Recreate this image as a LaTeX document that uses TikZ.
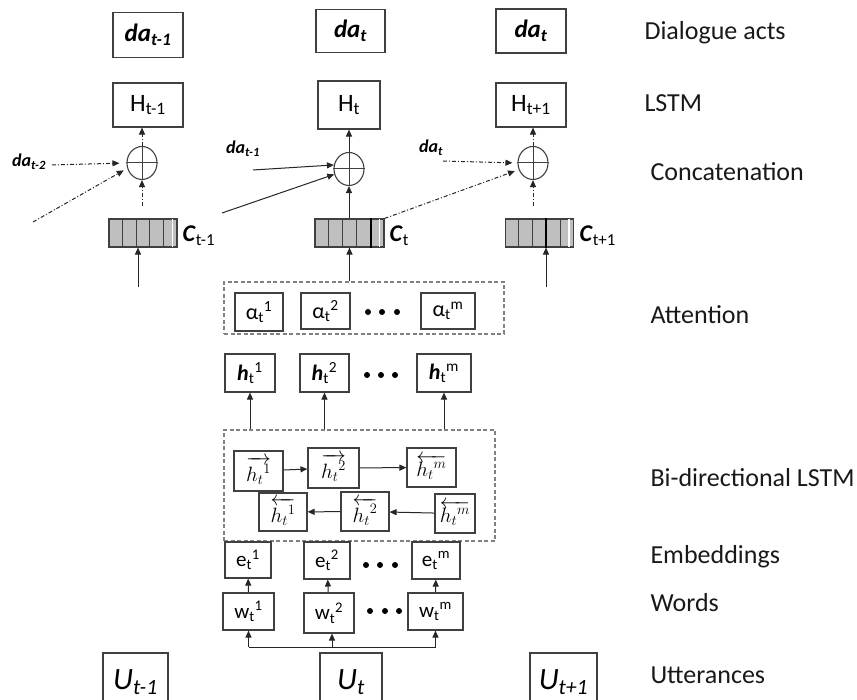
\documentclass[tikz,border=0pt]{standalone}
\usepackage{fontspec}
\setmainfont{Carlito}
\usetikzlibrary{arrows.meta,shapes.geometric,calc}

\begin{document}
\begin{tikzpicture}[x=1pt,y=-1pt,
    box/.style={draw=black!75,line width=1.1pt,inner sep=0pt},
    cell/.style={box,fill=black!25,minimum width=68,minimum height=28},
    cat/.style={draw=black!75,line width=1.1pt,ellipse,minimum width=30,minimum height=33,inner sep=0pt},
    grp/.style={draw=black!50,dash pattern=on 4pt off 2.5pt,line width=1.4pt,inner sep=0pt},
    arr/.style={-{Triangle[length=7pt,width=6pt]},line width=1pt,black!85},
    dd/.style={dash pattern=on 4pt off 2pt on 1pt off 2pt},
    lbl/.style={anchor=west,font=\fontsize{26}{30}\selectfont,black!90},
    small/.style={font=\fontsize{18}{20}\selectfont\bfseries\itshape},
    bi/.style={box,font=\fontsize{21}{24}\selectfont}]
    \useasboundingbox (0,0) rectangle (857,700);
    %dialogue acts
    \node[box,minimum width=70,minimum height=45,font=\fontsize{25}{28}\selectfont\bfseries\itshape] (daA) at (148,35) {da\textsubscript{t-1}};
    \node[box,minimum width=69,minimum height=43,font=\fontsize{25}{28}\selectfont\bfseries\itshape] (daB) at (350.5,31) {da\textsubscript{t}};
    \node[box,minimum width=70,minimum height=44,font=\fontsize{25}{28}\selectfont\bfseries\itshape] (daC) at (531,31) {da\textsubscript{t}};
    %LSTM
    \node[box,minimum width=70,minimum height=44,font=\fontsize{25}{28}\selectfont] (HA) at (148,105) {H\textsubscript{t-1}};
    \node[box,minimum width=62,minimum height=48,font=\fontsize{25}{28}\selectfont] (HB) at (349,105) {H\textsubscript{t}};
    \node[box,minimum width=70,minimum height=44,font=\fontsize{25}{28}\selectfont] (HC) at (531,105) {H\textsubscript{t+1}};
    %concatenation
    \node[cat] (oA) at (142,163) {};
    \node[cat] (oB) at (349,169) {};
    \node[cat] (oC) at (533,163) {};
    \foreach \o in {oA,oB,oC}
        \draw[black!75,line width=1pt] (\o.north)--(\o.south) (\o.west)--(\o.east);
    %context vectors
    \node[cell] (cA) at (143,233) {};
    \node[cell,minimum width=69] (cB) at (349.5,233) {};
    \node[cell] (cC) at (539.5,233) {};
    \foreach \c in {cA,cB,cC}
        \foreach \i in {1,...,4}
            \draw[black!75,line width=1pt] ($(\c.south west)!\i/5!(\c.south east)$)--($(\c.north west)!\i/5!(\c.north east)$);
    \draw[black,line width=2pt] ($(cB.south west)!4/5!(cB.south east)$)--($(cB.north west)!4/5!(cB.north east)$);
    \draw[black,line width=2pt] ($(cC.south west)!3/5!(cC.south east)$)--($(cC.north west)!3/5!(cC.north east)$);
    \foreach \c in {cA,cB,cC}
        \draw[white,line width=1.2pt] ($(\c.south east)+(-5,-1)$)--($(\c.north east)+(-5,1)$);
    \node[anchor=west,font=\fontsize{24}{28}\selectfont] (lcA) at (179,236) {\textbf{\textit{C}}\textsubscript{t-1}};
    \node[anchor=west,font=\fontsize{24}{28}\selectfont] (lcB) at (386,236) {\textbf{\textit{C}}\textsubscript{t}};
    \node[anchor=west,font=\fontsize{24}{28}\selectfont] (lcC) at (576,236) {\textbf{\textit{C}}\textsubscript{t+1}};
    %labels of the inputs
    \node[small] (xA) at (29,162) {da\textsubscript{t-2}};
    \node[small] (xB) at (243,149) {da\textsubscript{t-1}};
    \node[small] (xC) at (431,148) {da\textsubscript{t}};
    \coordinate (sA) at (52,165);
    \coordinate (pA) at (33,222);
    \coordinate (sB) at (253,170);
    \coordinate (pB) at (222,213);
    \coordinate (sC) at (443,161);
    %attention
    \node[grp,minimum width=280,minimum height=52] (att) at (364,308) {};
    \node[box,minimum width=48,minimum height=38,font=\fontsize{22}{26}\selectfont] (a1) at (259,312) {α\textsubscript{t}\textsuperscript{1}};
    \node[box,minimum width=49,minimum height=36,font=\fontsize{22}{26}\selectfont] (a2) at (325.5,311) {α\textsubscript{t}\textsuperscript{2}};
    \node[box,minimum width=54,minimum height=36,font=\fontsize{22}{26}\selectfont] (am) at (448,311) {α\textsubscript{t}\textsuperscript{m}};
    %hidden states
    \node[box,minimum width=50,minimum height=38,font=\fontsize{22}{26}\selectfont] (h1) at (250,373) {\textbf{\textit{h}}\textsubscript{t}\textsuperscript{1}};
    \node[box,minimum width=49,minimum height=38,font=\fontsize{22}{26}\selectfont] (h2) at (324.5,373) {\textbf{\textit{h}}\textsubscript{t}\textsuperscript{2}};
    \node[box,minimum width=54,minimum height=38,font=\fontsize{22}{26}\selectfont] (hm) at (444,373) {\textbf{\textit{h}}\textsubscript{t}\textsuperscript{m}};
    %bi-directional lstm
    \node[grp,minimum width=271,minimum height=111] (bl) at (359.5,485.5) {};
    \node[bi,minimum width=49,minimum height=40] (f1) at (258.5,471) {$\overrightarrow{h_t{}^1}$};
    \node[bi,minimum width=51,minimum height=40] (f2) at (333.5,468) {$\overrightarrow{h_t{}^2}$};
    \node[bi,minimum width=49,minimum height=39] (fm) at (431.5,467.5) {$\overleftarrow{h_t{}^m}$};
    \node[bi,minimum width=48,minimum height=38] (b1) at (283,512) {$\overleftarrow{h_t{}^1}$};
    \node[bi,minimum width=48,minimum height=39] (b2) at (365,511.5) {$\overleftarrow{h_t{}^2}$};
    \node[bi,minimum width=40,minimum height=39] (bm) at (455,513.5) {$\overleftarrow{h_t{}^m}$};
    %embeddings
    \node[box,minimum width=46,minimum height=36,font=\fontsize{21}{24}\selectfont] (e1) at (248,560) {e\textsubscript{t}\textsuperscript{1}};
    \node[box,minimum width=46,minimum height=37,font=\fontsize{21}{24}\selectfont] (e2) at (327,560.5) {e\textsubscript{t}\textsuperscript{2}};
    \node[box,minimum width=48,minimum height=37,font=\fontsize{21}{24}\selectfont] (em) at (436,560.5) {e\textsubscript{t}\textsuperscript{m}};
    %words
    \node[box,minimum width=51,minimum height=37,font=\fontsize{21}{24}\selectfont] (w1) at (248.5,611.5) {w\textsubscript{t}\textsuperscript{1}};
    \node[box,minimum width=50,minimum height=40,font=\fontsize{21}{24}\selectfont] (w2) at (329,613) {w\textsubscript{t}\textsuperscript{2}};
    \node[box,minimum width=55,minimum height=37,font=\fontsize{21}{24}\selectfont] (wm) at (435.5,611.5) {w\textsubscript{t}\textsuperscript{m}};
    %utterances
    \node[box,minimum width=65,minimum height=58,font=\fontsize{31}{34}\selectfont\itshape] (uA) at (135.5,682) {U\textsubscript{t-1}};
    \node[box,minimum width=62,minimum height=58,font=\fontsize{31}{34}\selectfont\itshape] (uB) at (351,682) {U\textsubscript{t}};
    \node[box,minimum width=67,minimum height=58,font=\fontsize{31}{34}\selectfont\itshape] (uC) at (563.5,682) {U\textsubscript{t+1}};
    %dots
    \foreach \x in {368,382,397} \fill (\x,312) circle(3);
    \foreach \x in {367,381,395} \fill (\x,375) circle(3);
    \foreach \x in {366,380,395} \fill (\x,565) circle(3);
    \foreach \x in {370,385,399} \fill (\x,611) circle(3);
    %arrows up to the lstm
    \draw[arr,dd] (oA.north)--(oA.north |- HA.south);
    \draw[arr] (oB.north)--(oB.north |- HB.south);
    \draw[arr,dd] (oC.north)--(oC.north |- HC.south);
    \draw[arr,dd,shorten <=12pt] (oA.south |- cA.north)--(oA.south);
    \draw[arr] (oB.south |- cB.north)--(oB.south);
    \draw[arr,dd,shorten <=12pt] (oC.south |- cC.north)--(oC.south);
    %inputs of the concatenation
    \draw[arr,dd,shorten >=7pt] (sA)--(oA.west);
    \draw[arr,dd,shorten >=4pt] (pA)--(oA.200);
    \draw[arr] (sB)--(oB.165);
    \draw[arr] (pB)--(oB.200);
    \draw[arr,dd,shorten >=5pt] (sC)--(oC.west);
    \draw[arr,dd,shorten >=4pt] (cB.north east)--(oC.205);
    %arrows into the context vectors
    \coordinate (iA) at (138,287);
    \coordinate (iC) at (546,287);
    \draw[arr] (iA)--(iA |- cA.south);
    \draw[arr] (cB.south |- att.north)--(cB.south);
    \draw[arr] (iC)--(iC |- cC.south);
    %bi-lstm to hidden states
    \draw[arr] (h1.south |- bl.north)--(h1.south);
    \draw[arr] (h2.south |- bl.north)--(h2.south);
    \draw[arr] (hm.south |- bl.north)--(hm.south);
    \draw[arr] (f1)--(f2);
    \draw[arr] (f2)--(fm);
    \draw[arr] (bm)--(b2);
    \draw[arr] (b2)--(b1);
    %words to embeddings
    \draw[arr] (w1)--(e1);
    \draw[arr] (w2)--(e2);
    \draw[arr] (wm)--(em);
    \coordinate (br) at (0,647);
    \draw[line width=1pt,black!85] (w1.south |- br)--(wm.south |- br);
    \draw[arr] (w1.south |- br)--(w1.south);
    \draw[arr] ($(w2.south |- br)+(3,0)$)--($(w2.south)+(3,0)$);
    \draw[arr] (wm.south |- br)--(wm.south);
    %layer names
    \node[lbl] (tDa) at (641,33) {Dialogue acts};
    \node[lbl] (tLs) at (641,103) {LSTM};
    \node[lbl] (tCo) at (647,172) {Concatenation};
    \node[lbl] (tAt) at (647,315) {Attention};
    \node[lbl] (tBi) at (647,478) {Bi-directional LSTM};
    \node[lbl] (tEm) at (647,557) {Embeddings};
    \node[lbl] (tWo) at (647,603) {Words};
    \node[lbl] (tUt) at (647,675) {Utterances};
\end{tikzpicture}
\end{document}
